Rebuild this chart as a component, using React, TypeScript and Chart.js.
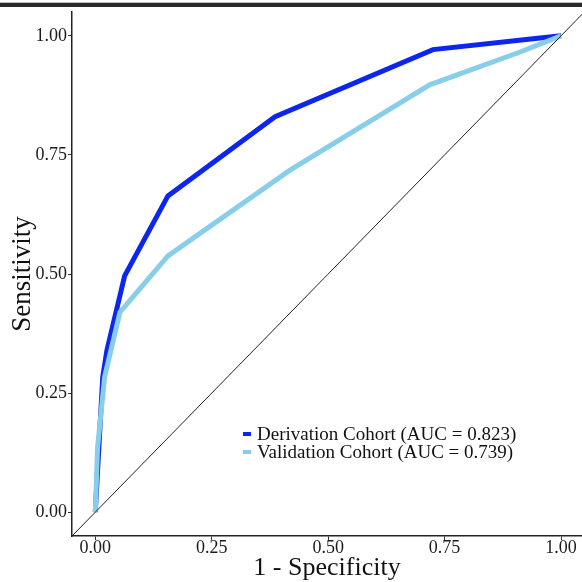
import React, { useEffect, useRef } from "react";
import { Chart, registerables } from "chart.js";

Chart.register(...registerables);

const derivFpr = [0, 0.007, 0.016, 0.025, 0.063, 0.156, 0.386, 0.725, 0.93, 1];
const derivTpr = [0, 0.124, 0.284, 0.34, 0.496, 0.664, 0.83, 0.971, 0.993, 1];
const validFpr = [0, 0.005, 0.02, 0.053, 0.156, 0.418, 0.718, 0.912, 1];
const validTpr = [0, 0.137, 0.284, 0.42, 0.538, 0.718, 0.897, 0.966, 1];
const diagX = [-0.05, 1.05];
const diagY = [-0.05, 1.05];
const tickValues = [0, 0.25, 0.5, 0.75, 1];
const seriesLabels = ["Derivation Cohort (AUC = 0.823)", "Validation Cohort (AUC = 0.739)"];
const seriesColors = ["#0c26ef", "#87ceeb"];

const FONT = '"Liberation Serif", "Times New Roman", serif';

const legendPlugin = {
  id: "insetLegend",
  afterDraw(chart: any) {
    const ctx = chart.ctx;
    ctx.save();
    ctx.font = `19px ${FONT}`;
    ctx.textBaseline = "middle";
    ctx.textAlign = "left";
    const x0 = 243;
    const y0 = 434;
    seriesLabels.forEach((lab, i) => {
      const y = y0 + i * 18;
      ctx.strokeStyle = seriesColors[i];
      ctx.lineWidth = 4;
      ctx.beginPath();
      ctx.moveTo(x0, y);
      ctx.lineTo(x0 + 8, y);
      ctx.stroke();
      ctx.fillStyle = "#111";
      ctx.fillText(lab, x0 + 14, y + 1);
    });
    ctx.restore();
  },
};

const topRulePlugin = {
  id: "topRule",
  beforeDraw(chart: any) {
    const ctx = chart.ctx;
    ctx.save();
    ctx.fillStyle = "#bbb";
    ctx.fillRect(0, 2, chart.width, 1);
    ctx.fillStyle = "#2a2a2a";
    ctx.fillRect(0, 3, chart.width, 4);
    ctx.restore();
  },
};

export default function App() {
  const ref = useRef<HTMLCanvasElement>(null);
  useEffect(() => {
    if (!ref.current) return;
    const chart = new Chart(ref.current, {
      type: "scatter",
      data: {
        datasets: [
          {
            label: "diag",
            data: diagX.map((x, i) => ({ x, y: diagY[i] })),
            showLine: true,
            borderColor: "#222",
            borderWidth: 1,
            pointRadius: 0,
            order: 0,
          },
          {
            label: seriesLabels[1],
            data: validFpr.map((x, i) => ({ x, y: validTpr[i] })),
            showLine: true,
            borderColor: seriesColors[1],
            borderWidth: 5,
            pointRadius: 0,
            borderJoinStyle: "miter",
            order: 1,
          },
          {
            label: seriesLabels[0],
            data: derivFpr.map((x, i) => ({ x, y: derivTpr[i] })),
            showLine: true,
            borderColor: seriesColors[0],
            borderWidth: 5,
            pointRadius: 0,
            borderJoinStyle: "miter",
            order: 2,
          },
        ],
      } as any,
      options: {
        animation: false,
        responsive: false,
        maintainAspectRatio: false,
        layout: { padding: { top: 12, left: 0, right: 0, bottom: 0 } },
        plugins: { legend: { display: false }, tooltip: { enabled: false } },
        scales: {
          x: {
            type: "linear",
            min: -0.05,
            max: 1.045,
            afterBuildTicks: (s: any) => {
              s.ticks = tickValues.map((v) => ({ value: v }));
            },
            afterFit: (s: any) => {
              s.height = 46;
            },
            ticks: {
              callback: (v: any) => Number(v).toFixed(2),
              font: { family: FONT, size: 18, lineHeight: 1 },
              color: "#1a1a1a",
              padding: -1,
              maxRotation: 0,
              autoSkip: false,
            },
            grid: { drawOnChartArea: false, drawTicks: true, tickLength: 4, color: "#333" },
            border: { display: true, color: "#222", width: 1.5 },
            title: {
              display: true,
              text: "1 - Specificity",
              font: { family: FONT, size: 26, lineHeight: 1 },
              color: "#111",
              padding: { top: 0, bottom: 1 },
            },
          },
          y: {
            type: "linear",
            min: -0.05,
            max: 1.05,
            afterBuildTicks: (s: any) => {
              s.ticks = tickValues.map((v) => ({ value: v }));
            },
            afterFit: (s: any) => {
              s.width = 72;
            },
            ticks: {
              callback: (v: any) => Number(v).toFixed(2),
              font: { family: FONT, size: 18 },
              color: "#1a1a1a",
              padding: 1,
              autoSkip: false,
            },
            grid: { drawOnChartArea: false, drawTicks: true, tickLength: 4, color: "#333" },
            border: { display: true, color: "#222", width: 1.5 },
            title: {
              display: true,
              text: "Sensitivity",
              font: { family: FONT, size: 27, lineHeight: 1 },
              color: "#111",
              padding: { top: 9, bottom: 0 },
            },
          },
        },
      },
      plugins: [topRulePlugin, legendPlugin],
    } as any);
    return () => chart.destroy();
  }, []);
  return (
    <div style={{ position: "fixed", left: 0, top: 0, width: 582, height: 582, background: "#fff" }}>
      <canvas ref={ref} width={582} height={582} style={{ display: "block" }} />
    </div>
  );
}
